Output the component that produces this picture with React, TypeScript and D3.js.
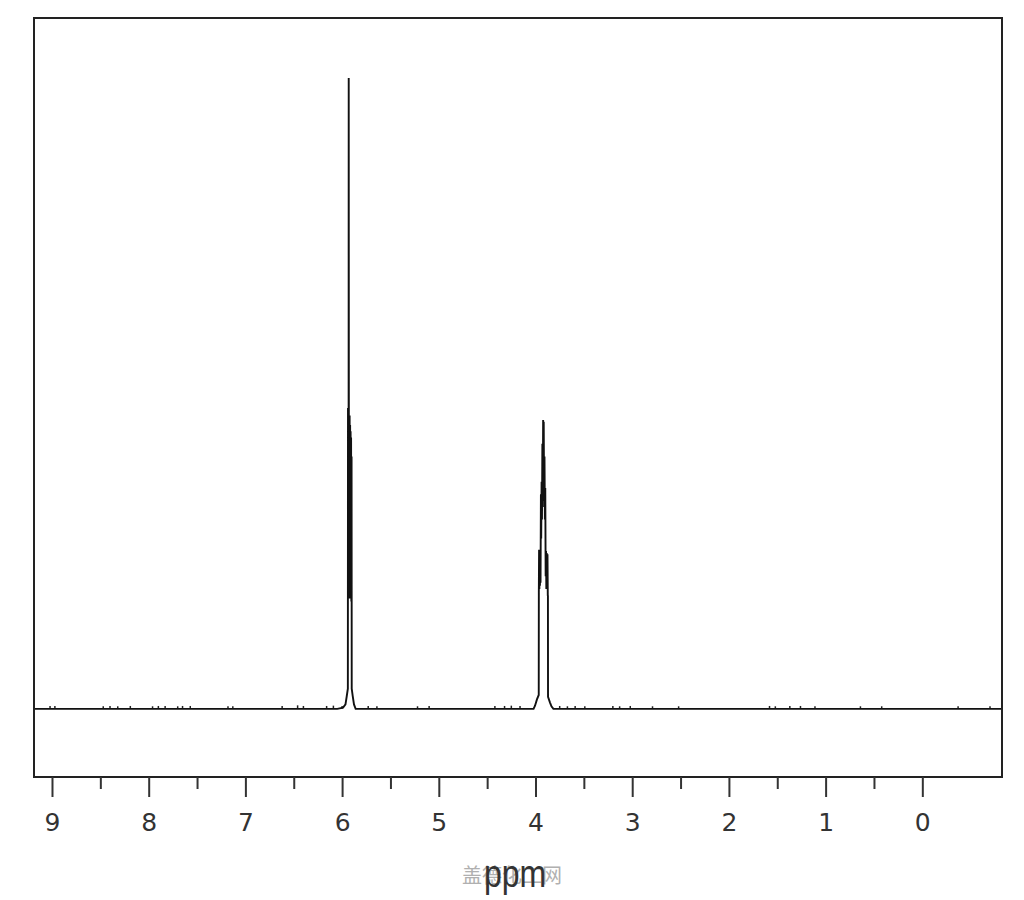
import React, { useEffect, useRef } from "react";
import * as d3 from "d3";

// 1H NMR spectrum: two multiplets (~5.93 and ~3.92 ppm), drawn with D3.

const majorTicks = [9, 8, 7, 6, 5, 4, 3, 2, 1, 0];
const minorTicks = [8.5, 7.5, 6.5, 5.5, 4.5, 3.5, 2.5, 1.5, 0.5];

// trace vertices, ppm (descending) and relative intensity (tallest line = 100)
const tracePpm = [
  9.186, 6.05, 5.99, 5.965, 5.952, 5.9405, 5.94, 5.939, 5.937, 5.935, 5.933,
  5.9315, 5.9295, 5.927, 5.9245, 5.922, 5.9195, 5.917, 5.9145, 5.912, 5.9095,
  5.907, 5.9045, 5.902, 5.901, 5.9005, 5.89, 5.877, 5.86,
  4.06, 4.02, 4.005, 3.985, 3.9665, 3.9655, 3.963, 3.96, 3.957, 3.954, 3.951,
  3.948, 3.944, 3.941, 3.937, 3.933, 3.929, 3.925, 3.921, 3.918, 3.915, 3.911,
  3.907, 3.903, 3.899, 3.895, 3.891, 3.888, 3.884, 3.88, 3.876, 3.873, 3.8715,
  3.8705, 3.85, 3.835, 3.815, -0.824,
];
const traceInt = [
  0, 0, 0.2, 0.7, 2.0, 3.2, 16.5, 47.7, 18, 47, 18, 100, 18, 46, 17.5, 46.5,
  17.5, 45, 17.5, 44, 17.5, 43, 17, 40, 16.5, 3.2, 2.0, 0.7, 0,
  0, 0, 0.5, 1.5, 2.2, 18.4, 25.2, 19, 25, 19.5, 24.5, 20, 34, 27, 36, 30, 42,
  33, 45.8, 36, 45.5, 32, 40, 30, 35, 21, 25, 19, 24.7, 19, 24.5, 18, 17.9, 1.9,
  1.0, 0.4, 0, 0,
];

// small noise specks sitting on the baseline
const noisePpm = [
  9.02, 8.97, 8.47, 8.4, 8.32, 8.19, 7.96, 7.9, 7.83, 7.7, 7.65, 7.57, 7.18,
  7.13, 6.62, 6.46, 6.4, 6.16, 6.09, 6.0, 5.73, 5.64, 5.22, 5.1, 4.42, 4.32,
  4.25, 4.16, 3.75, 3.67, 3.59, 3.49, 3.2, 3.13, 3.02, 2.79, 2.52, 1.58, 1.52,
  1.37, 1.26, 1.11, 0.64, 0.42, -0.37, -0.7,
];
const noiseInt = [
  0.3, 0.3, 0.25, 0.3, 0.25, 0.3, 0.25, 0.3, 0.3, 0.25, 0.3, 0.3, 0.25, 0.25,
  0.3, 0.4, 0.3, 0.3, 0.35, 0.3, 0.3, 0.25, 0.25, 0.3, 0.3, 0.3, 0.35, 0.3,
  0.3, 0.25, 0.3, 0.25, 0.3, 0.25, 0.3, 0.25, 0.25, 0.3, 0.25, 0.3, 0.3, 0.25,
  0.25, 0.25, 0.25, 0.25,
];

const xLabel = "ppm";
const watermark = "盖德化工网";

export default function App() {
  const ref = useRef<SVGSVGElement>(null);

  useEffect(() => {
    const svg = d3.select(ref.current);
    svg.selectAll("*").remove();

    const left = 34, right = 1002, top = 18, bottom = 777;
    const x = d3.scaleLinear().domain([9.186, -0.824]).range([left, right]);
    const y = d3.scaleLinear().domain([-10.8, 109.5]).range([bottom, top]);

    svg
      .append("rect")
      .attr("width", 1024)
      .attr("height", 900)
      .attr("fill", "#fff");

    // baseline noise
    svg
      .append("g")
      .selectAll("line")
      .data(noisePpm)
      .join("line")
      .attr("x1", (d) => x(d))
      .attr("x2", (d) => x(d))
      .attr("y1", y(0))
      .attr("y2", (d, i) => y(noiseInt[i]) - 1)
      .attr("stroke", "#222")
      .attr("stroke-width", 1.5);

    const pts = tracePpm.map((p, i) => [p, traceInt[i]] as [number, number]);
    const line = d3
      .line<[number, number]>()
      .x((d) => x(d[0]))
      .y((d) => y(d[1]));

    svg
      .append("path")
      .attr("d", line(pts))
      .attr("fill", "none")
      .attr("stroke", "#111")
      .attr("stroke-width", 1.9)
      .attr("stroke-linejoin", "miter");

    // frame
    svg
      .append("rect")
      .attr("x", left)
      .attr("y", top)
      .attr("width", right - left)
      .attr("height", bottom - top)
      .attr("fill", "none")
      .attr("stroke", "#222")
      .attr("stroke-width", 2);

    const major = svg
      .append("g")
      .attr("transform", `translate(0,${bottom})`)
      .call(
        d3
          .axisBottom(x)
          .tickValues(majorTicks)
          .tickSize(20)
          .tickPadding(16)
          .tickFormat(d3.format("d"))
      );
    major.select(".domain").remove();
    major.selectAll("line").attr("stroke", "#333").attr("stroke-width", 2);
    major
      .selectAll("text")
      .attr("fill", "#333")
      .attr("font-family", "DejaVu Sans")
      .attr("font-size", 25);

    const minor = svg
      .append("g")
      .attr("transform", `translate(0,${bottom})`)
      .call(
        d3
          .axisBottom(x)
          .tickValues(minorTicks)
          .tickSize(12)
          .tickFormat(() => "")
      );
    minor.select(".domain").remove();
    minor.selectAll("line").attr("stroke", "#333").attr("stroke-width", 2);

    svg
      .append("text")
      .attr("x", 512)
      .attr("y", 883)
      .attr("text-anchor", "middle")
      .attr("font-family", "Noto Sans CJK SC")
      .attr("font-size", 20)
      .attr("fill", "#b0b0b0")
      .text(watermark);

    svg
      .append("text")
      .attr("transform", "translate(515,887) scale(1,1.2)")
      .attr("text-anchor", "middle")
      .attr("font-family", "Liberation Sans")
      .attr("font-size", 32)
      .attr("fill", "#333")
      .text(xLabel);
  }, []);

  return (
    <svg
      ref={ref}
      width={1024}
      height={900}
      style={{ position: "absolute", left: 0, top: 0 }}
    />
  );
}
